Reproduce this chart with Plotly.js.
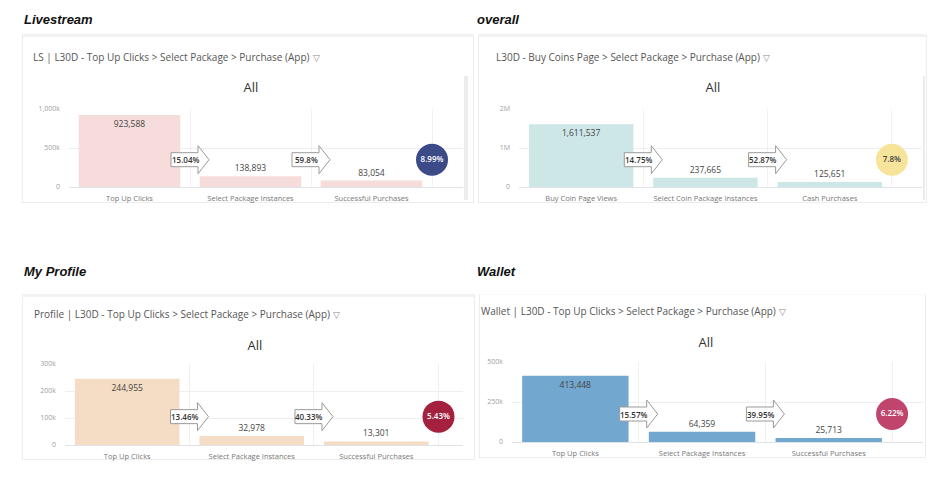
<!DOCTYPE html>
<html>
<head>
<meta charset="utf-8">
<script src="https://cdn.plot.ly/plotly-3.0.1.min.js"></script>
<style>
  body { margin: 0; width: 949px; height: 482px; background: #fff; position: relative; overflow: hidden; font-family: "Open Sans", sans-serif; }
  .heading { position: absolute; font-family: "Liberation Sans", Arial, sans-serif; font-weight: bold; font-style: italic; font-size: 13px; color: #111; line-height: 14px; }
  .card { position: absolute; box-sizing: border-box; border: 1px solid #ededed; border-top: 3px solid #f2f2f2; background: #fff; }
  .ctitle { position: absolute; font-size: 10px; color: #555; line-height: 12px; white-space: nowrap; }
  .ctitle span { font-size: 9px; color: #888; margin-left: 3px; }
  .scroll { position: absolute; background: #ececec; }
  .chart { position: absolute; }
</style>
</head>
<body>
<div id="root"></div>
<script>
// funnel steps and counts
const lsSteps = ['Top Up Clicks', 'Select Package Instances', 'Successful Purchases'];
const lsValues = [923588, 138893, 83054];
const lsRates = ['15.04%', '59.8%'];
const lsOverall = '8.99%';
const lsTickVals = [0, 500000, 1000000];
const lsTickText = ['0', '500k', '1,000k'];

const allSteps = ['Buy Coin Page Views', 'Select Coin Package Instances', 'Cash Purchases'];
const allValues = [1611537, 237665, 125651];
const allRates = ['14.75%', '52.87%'];
const allOverall = '7.8%';
const allTickVals = [0, 1000000, 2000000];
const allTickText = ['0', '1M', '2M'];

const profSteps = ['Top Up Clicks', 'Select Package Instances', 'Successful Purchases'];
const profValues = [244955, 32978, 13301];
const profRates = ['13.46%', '40.33%'];
const profOverall = '5.43%';
const profTickVals = [0, 100000, 200000, 300000];
const profTickText = ['0', '100k', '200k', '300k'];

const walSteps = ['Top Up Clicks', 'Select Package Instances', 'Successful Purchases'];
const walValues = [413448, 64359, 25713];
const walRates = ['15.57%', '39.95%'];
const walOverall = '6.22%';
const walTickVals = [0, 250000, 500000];
const walTickText = ['0', '250k', '500k'];

const root = document.getElementById('root');

function addDiv(cls, style, html) {
  const d = document.createElement('div');
  d.className = cls;
  Object.assign(d.style, style);
  if (html) d.innerHTML = html;
  root.appendChild(d);
  return d;
}

// page furniture: section headings, cards, card titles
addDiv('heading', {left: '24px', top: '13px'}, 'Livestream');
addDiv('heading', {left: '477px', top: '13px'}, 'overall');
addDiv('heading', {left: '24px', top: '265px'}, 'My Profile');
addDiv('heading', {left: '477px', top: '265px'}, 'Wallet');

addDiv('card', {left: '22px', top: '34px', width: '452px', height: '169px'});
addDiv('card', {left: '478px', top: '34px', width: '449px', height: '169px'});
addDiv('card', {left: '22px', top: '294px', width: '453px', height: '166px'});
addDiv('card', {left: '479px', top: '294px', width: '447px', height: '164px', borderTop: '1px solid #fafafa'});

addDiv('scroll', {left: '464px', top: '76px', width: '4px', height: '124px'});
addDiv('scroll', {left: '923px', top: '76px', width: '2px', height: '124px'});

const filt = '<span>&#9661;</span>';
addDiv('ctitle', {left: '33px', top: '51px'}, 'LS | L30D - Top Up Clicks &gt; Select Package &gt; Purchase (App)' + filt);
addDiv('ctitle', {left: '496px', top: '51px'}, 'L30D - Buy Coins Page &gt; Select Package &gt; Purchase (App)' + filt);
addDiv('ctitle', {left: '34px', top: '308px'}, 'Profile | L30D - Top Up Clicks &gt; Select Package &gt; Purchase (App)' + filt);
addDiv('ctitle', {left: '481px', top: '305px'}, 'Wallet | L30D - Top Up Clicks &gt; Select Package &gt; Purchase (App)' + filt);

function funnelChart(box, steps, values, rates, overall, tickVals, tickText, opts) {
  // box = plot area in page pixels; the div gets a margin around it
  const m = {l: 50, r: 8, t: 40, b: 22};
  const w = box.right - box.left + m.l + m.r;
  const h = box.bottom - box.top + m.t + m.b;
  const div = addDiv('chart', {
    left: (box.left - m.l) + 'px',
    top: (box.top - m.t) + 'px',
    width: w + 'px',
    height: h + 'px',
  });
  const yMax = tickVals[tickVals.length - 1];
  const yMid = yMax * 0.35;
  const xs = steps.map((_, i) => i);

  const bars = {
    type: 'bar',
    x: xs,
    y: values,
    width: 0.84,
    marker: {color: opts.barColor},
    texttemplate: '%{y:,}',
    textposition: values.map(v => v > yMax * 0.8 ? 'inside' : 'outside'),
    insidetextanchor: 'end',
    textangle: 0,
    constraintext: 'none',
    cliponaxis: false,
    textfont: {family: 'Open Sans', size: 8.5, color: '#444'},
    hoverinfo: 'none',
  };

  // overall conversion bubble sits on the boundary after the last step
  const bubble = {
    type: 'scatter',
    mode: 'markers+text',
    x: [steps.length - 0.5],
    y: [yMid],
    text: [overall],
    textposition: 'middle center',
    textfont: {family: 'Open Sans', size: 8, color: opts.bubbleText, weight: 600},
    marker: {size: 32, color: opts.bubbleColor, line: {width: 0}},
    cliponaxis: false,
    hoverinfo: 'none',
  };

  const arrowPath = 'M -19,-7 L 8,-7 L 8,-14 L 19,0 L 8,14 L 8,7 L -19,7 Z';
  const shapes = rates.map((_, i) => ({
    type: 'path',
    xref: 'x', yref: 'y',
    xsizemode: 'pixel', ysizemode: 'pixel',
    xanchor: i + 0.5, yanchor: yMid,
    path: arrowPath,
    fillcolor: '#fff',
    line: {color: '#9a9a9a', width: 1},
    layer: 'above',
  }));
  const annotations = rates.map((r, i) => ({
    x: i + 0.5, y: yMid,
    xref: 'x', yref: 'y',
    text: r,
    showarrow: false,
    xshift: -5,
    font: {family: 'Open Sans', size: 8, color: '#333', weight: 600},
  }));

  Plotly.newPlot(div, [bars, bubble], {
    width: w,
    height: h,
    margin: m,
    paper_bgcolor: 'rgba(0,0,0,0)',
    plot_bgcolor: 'rgba(0,0,0,0)',
    showlegend: false,
    title: {
      text: 'All',
      font: {family: 'Open Sans', size: 13, color: '#333'},
      xref: 'container', yref: 'container',
      x: (opts.allX - (box.left - m.l)) / w,
      y: 1 - (opts.allY - (box.top - m.t)) / h,
      xanchor: 'center', yanchor: 'middle',
    },
    xaxis: {
      range: [-0.5, opts.xEnd],
      tickvals: xs,
      ticktext: steps,
      ticks: '',
      showgrid: false,
      zeroline: false,
      showline: true,
      linecolor: '#dfe3e8',
      linewidth: 1,
      minor: {tick0: 0.5, dtick: 1, showgrid: true, gridcolor: '#f0f0f0', gridwidth: 1, ticks: ''},
      ticklabelstandoff: 4,
      tickfont: {family: 'Open Sans', size: 7.5, color: '#777'},
      fixedrange: true,
    },
    yaxis: {
      range: [0, yMax],
      tickvals: tickVals,
      ticktext: tickText,
      ticks: '',
      showgrid: true,
      gridcolor: '#efefef',
      zeroline: false,
      ticklabelstandoff: 8,
      tickfont: {family: 'Open Sans', size: 7, color: '#a0a0a0'},
      fixedrange: true,
    },
    shapes,
    annotations,
  }, {staticPlot: true});
}

funnelChart({left: 69, right: 463, top: 109, bottom: 187},
  lsSteps, lsValues, lsRates, lsOverall, lsTickVals, lsTickText,
  {barColor: '#f7dcdc', bubbleColor: '#3c4b88', bubbleText: '#fff', xEnd: 2.756, allX: 251, allY: 87});
funnelChart({left: 519, right: 922, top: 109, bottom: 187},
  allSteps, allValues, allRates, allOverall, allTickVals, allTickText,
  {barColor: '#cde6e6', bubbleColor: '#f7e49b', bubbleText: '#444', xEnd: 2.742, allX: 713, allY: 87});
funnelChart({left: 65, right: 463, top: 364, bottom: 445},
  profSteps, profValues, profRates, profOverall, profTickVals, profTickText,
  {barColor: '#f5dcc4', bubbleColor: '#a3203f', bubbleText: '#fff', xEnd: 2.697, allX: 255, allY: 345});
funnelChart({left: 512, right: 923, top: 362, bottom: 442},
  walSteps, walValues, walRates, walOverall, walTickVals, walTickText,
  {barColor: '#72a8d0', bubbleColor: '#c0456d', bubbleText: '#fff', xEnd: 2.744, allX: 706, allY: 342});
</script>
</body>
</html>
